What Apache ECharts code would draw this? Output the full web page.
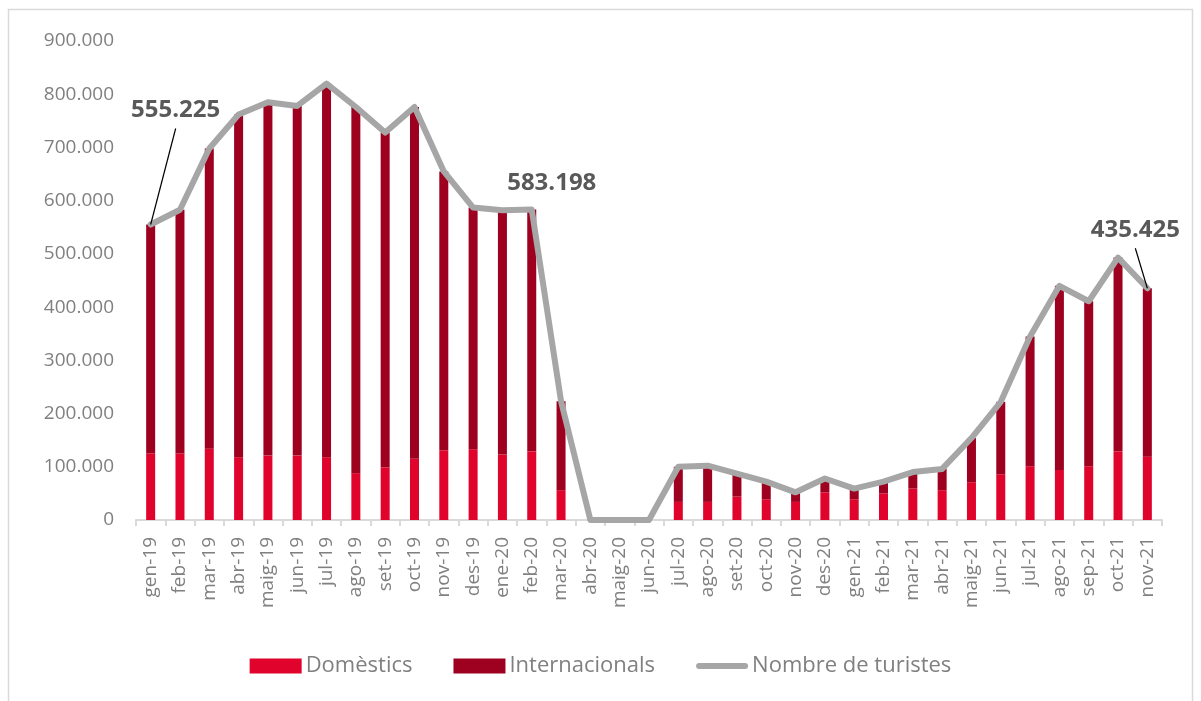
<!DOCTYPE html>
<html>
<head>
<meta charset="utf-8">
<script src="https://cdn.jsdelivr.net/npm/echarts@6/dist/echarts.min.js"></script>
<style>
  html, body { margin: 0; padding: 0; background: #fff; }
  #chart { width: 1201px; height: 701px; }
</style>
</head>
<body>
<div id="chart"></div>
<script>
/* ---------- dades ---------- */
const months = [
  "gen-19", "feb-19", "mar-19", "abr-19", "maig-19", "jun-19", "jul-19", "ago-19", "set-19", "oct-19", "nov-19", "des-19",
  "ene-20", "feb-20", "mar-20", "abr-20", "maig-20", "jun-20", "jul-20", "ago-20", "set-20", "oct-20", "nov-20", "des-20",
  "gen-21", "feb-21", "mar-21", "abr-21", "maig-21", "jun-21", "jul-21", "ago-21", "sep-21", "oct-21", "nov-21",
];

const domestics = [
  125000, 125000, 134000, 118000, 121000, 121000, 118000, 88000, 99000, 115000, 131000, 133000,
  123000, 129000, 56000, 0, 0, 0, 34000, 34000, 44000, 39000, 34000, 52000,
  39000, 50000, 59000, 56000, 71000, 86000, 101000, 94000, 101000, 129000, 119000,
];

const internacionals = [
  430225, 458000, 564000, 644000, 664000, 657000, 702000, 688000, 629000, 661000, 524000, 454000,
  459000, 454198, 167000, 0, 0, 0, 66000, 68000, 43000, 33000, 18000, 26000,
  20000, 22000, 31000, 40000, 83000, 136000, 244000, 346000, 310000, 364000, 316425,
];

const turistes = [
  555225, 583000, 698000, 762000, 785000, 778000, 820000, 776000, 728000, 776000, 655000, 587000,
  582000, 583198, 223000, 0, 0, 0, 100000, 102000, 87000, 72000, 52000, 78000,
  59000, 72000, 90000, 96000, 154000, 222000, 345000, 440000, 411000, 493000, 435425,
];

const yTicks = { min: 0, max: 900000, interval: 100000 };

// punts destacats: índex del mes + desplaçament de l'etiqueta (px)
const callouts = [
  { idx: 0, dx: 25, dy: -114, leader: true },
  { idx: 13, dx: 20, dy: -26, leader: false },
  { idx: 34, dx: -12, dy: -58, leader: true },
];

/* ---------- helpers ---------- */
const FONT = "'Open Sans', 'Noto Sans', sans-serif";
const GREY_TXT = "#808080";
const LINE_ICON = "path://M3,0 H49 A3,3 0 0 1 49,6 H3 A3,3 0 0 1 3,0 Z";

function fmtNum(v) {
  return String(Math.round(v)).replace(/\B(?=(\d{3})+(?!\d))/g, ".");
}

/* ---------- chart ---------- */
const chart = echarts.init(document.getElementById("chart"), null, { renderer: "canvas" });

chart.setOption({
  animation: false,
  backgroundColor: "#fff",
  textStyle: { fontFamily: FONT },
  grid: { left: 136, right: 39, top: 41, bottom: 181 },
  legend: {
    bottom: 19,
    left: "center",
    itemWidth: 52,
    itemHeight: 15,
    itemGap: 41,
    textStyle: { color: GREY_TXT, fontSize: 22, fontFamily: FONT, padding: [0, 0, 0, -1] },
    data: [
      { name: "Domèstics", icon: "rect" },
      { name: "Internacionals", icon: "rect" },
      { name: "Nombre de turistes", icon: LINE_ICON, itemStyle: { color: "#a6a6a6" } },
    ],
  },
  xAxis: {
    type: "category",
    data: months,
    boundaryGap: true,
    axisLine: { lineStyle: { color: "#d9d9d9", width: 2 } },
    axisTick: { show: true, length: 6, lineStyle: { color: "#d9d9d9", width: 2 } },
    axisLabel: {
      interval: 0,
      rotate: 90,
      color: GREY_TXT,
      fontSize: 19,
      fontFamily: FONT,
      margin: 17,
    },
  },
  yAxis: {
    type: "value",
    min: yTicks.min,
    max: yTicks.max,
    interval: yTicks.interval,
    axisLine: { show: false },
    axisTick: { show: false },
    splitLine: { show: false },
    axisLabel: {
      color: GREY_TXT,
      fontSize: 19,
      fontFamily: FONT,
      margin: 22,
      formatter: (v) => fmtNum(v),
    },
  },
  series: [
    {
      name: "Domèstics",
      type: "bar",
      stack: "t",
      data: domestics,
      barWidth: 9,
      itemStyle: { color: "#e0032b" },
    },
    {
      name: "Internacionals",
      type: "bar",
      stack: "t",
      data: internacionals,
      barWidth: 9,
      itemStyle: { color: "#9e001f" },
    },
    {
      name: "Nombre de turistes",
      type: "line",
      data: turistes,
      symbol: "none",
      z: 5,
      lineStyle: { color: "#a6a6a6", width: 6, cap: "round", join: "round" },
      itemStyle: { color: "#a6a6a6" },
    },
  ],
});

/* ---------- etiquetes i marc ---------- */
const graphics = [
  {
    type: "rect",
    shape: { x: 8.5, y: 9.5, width: 1184, height: 720 },
    style: { fill: "none", stroke: "#d9d9d9", lineWidth: 1.5 },
    silent: true,
    z: -10,
  },
];

callouts.forEach((c) => {
  const [px, py] = chart.convertToPixel({ seriesIndex: 2 }, [c.idx, turistes[c.idx]]);
  const tx = px + c.dx;
  const ty = py + c.dy;
  graphics.push({
    type: "text",
    x: tx,
    y: ty,
    z: 20,
    style: {
      text: fmtNum(turistes[c.idx]),
      fill: "#595959",
      font: "bold 24px " + FONT,
      align: "center",
      verticalAlign: "middle",
    },
  });
  if (c.leader) {
    graphics.push({
      type: "line",
      z: 20,
      shape: { x1: tx, y1: ty + 18, x2: px, y2: py },
      style: { stroke: "#000", lineWidth: 1.2 },
    });
  }
});

chart.setOption({ graphic: graphics });
</script>
</body>
</html>
